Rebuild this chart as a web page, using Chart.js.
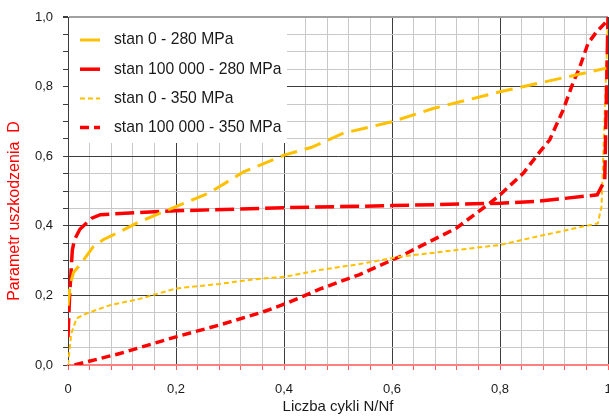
<!DOCTYPE html>
<html lang="pl">
<head>
<meta charset="UTF-8">
<title>Parametr uszkodzenia D</title>
<script src="https://cdn.jsdelivr.net/npm/chart.js"></script>
<style>
    html, body { margin: 0; padding: 0; background: #fff; }
    #wrap { width: 609px; height: 419px; }
</style>
</head>
<body>
<div id="wrap"><canvas id="wykres" width="609" height="419"></canvas></div>
<script>
    // N/Nf i D
    var nS0_280 = [0, 0.004, 0.01, 0.028, 0.047, 0.065, 0.096, 0.13, 0.2, 0.262, 0.325, 0.4, 0.45, 0.51, 0.6, 0.676, 0.8, 0.997];
    var dS0_280 = [0.17, 0.23, 0.265, 0.30, 0.34, 0.36, 0.383, 0.41, 0.455, 0.495, 0.555, 0.603, 0.625, 0.666, 0.699, 0.737, 0.785, 0.853];

    var nS100_280 = [0, 0.003, 0.008, 0.012, 0.022, 0.044, 0.06, 0.127, 0.2, 0.4, 0.6, 0.8, 0.874, 0.98, 0.994, 1.0];
    var dS100_280 = [0.08, 0.2, 0.33, 0.36, 0.39, 0.422, 0.432, 0.438, 0.443, 0.452, 0.458, 0.465, 0.471, 0.489, 0.53, 1.0];

    var nS0_350 = [0, 0.006, 0.016, 0.034, 0.078, 0.133, 0.2, 0.281, 0.343, 0.404, 0.466, 0.54, 0.614, 0.8, 0.874, 0.981, 0.988, 1.0];
    var dS0_350 = [0, 0.09, 0.134, 0.148, 0.172, 0.19, 0.22, 0.233, 0.246, 0.254, 0.273, 0.29, 0.311, 0.345, 0.371, 0.407, 0.455, 1.0];

    var nS100_350 = [0.012, 0.096, 0.2, 0.281, 0.362, 0.404, 0.466, 0.54, 0.614, 0.719, 0.781, 0.8, 0.843, 0.874, 0.892, 0.917, 0.935, 0.947, 0.963, 0.979, 1.0];
    var dS100_350 = [0, 0.033, 0.081, 0.115, 0.153, 0.177, 0.218, 0.26, 0.311, 0.393, 0.465, 0.489, 0.551, 0.613, 0.647, 0.733, 0.81, 0.853, 0.924, 0.958, 0.991];

    var etykietyX = ['0', '0,2', '0,4', '0,6', '0,8', '1'];
    var etykietyY = ['0,0', '0,2', '0,4', '0,6', '0,8', '1,0'];
    var tytulX = 'Liczba cykli N/Nf';
    var tytulY = 'Parametr uszkodzenia  D';

    var czcionka = 'Arial, "Liberation Sans", sans-serif';

    function punkty(xs, ys) {
        return xs.map(function (x, i) { return { x: x, y: ys[i] }; });
    }

    function glowna(v) {
        return Math.abs(v / 0.2 - Math.round(v / 0.2)) < 1e-6;
    }

    function etykieta(lista) {
        return function (v) {
            return glowna(v) ? lista[Math.round(v / 0.2)] : '';
        };
    }

    // legenda w lewym gornym rogu pola wykresu
    var legendaWykresu = {
        id: 'legendaWykresu',
        beforeDatasetsDraw: function (chart) {
            var c = chart.ctx, a = chart.chartArea;
            c.save();
            c.fillStyle = '#ffffff';
            c.fillRect(a.left + 1, a.top + 1, 218, 125);
            chart.data.datasets.forEach(function (ds, i) {
                var y = 40 + i * 29.2;
                c.strokeStyle = ds.borderColor;
                c.lineWidth = ds.borderWidth;
                c.setLineDash(ds.borderDash[0] > 12 ? [] : ds.borderDash);
                c.beginPath();
                c.moveTo(80, y);
                c.lineTo(100, y);
                c.stroke();
                c.setLineDash([]);
                c.fillStyle = '#1a1a1a';
                c.font = '15.7px ' + czcionka;
                c.textBaseline = 'middle';
                c.fillText(ds.label, 114, y);
            });
            c.restore();
        }
    };

    var tytulOsiY = {
        id: 'tytulOsiY',
        afterDraw: function (chart) {
            var c = chart.ctx;
            c.save();
            c.translate(15, 211);
            c.rotate(-Math.PI / 2);
            c.font = '16px ' + czcionka;
            c.fillStyle = '#ff0000';
            c.textAlign = 'center';
            c.textBaseline = 'middle';
            c.fillText(tytulY, 0, 0);
            c.restore();
        }
    };

    var kontekst = document.getElementById('wykres').getContext('2d');
    var wykres = new Chart(kontekst, {
        type: 'line',
        data: {
            datasets: [
                {
                    label: 'stan 0 - 280 MPa',
                    data: punkty(nS0_280, dS0_280),
                    borderColor: '#ffc000',
                    borderWidth: 3,
                    borderDash: [17, 8]
                },
                {
                    label: 'stan 100 000 - 280 MPa',
                    data: punkty(nS100_280, dS100_280),
                    borderColor: '#ff0000',
                    borderWidth: 3.5,
                    borderDash: [19, 6]
                },
                {
                    label: 'stan 0 - 350 MPa',
                    data: punkty(nS0_350, dS0_350),
                    borderColor: '#ffc000',
                    borderWidth: 2,
                    borderDash: [5, 3]
                },
                {
                    label: 'stan 100 000 - 350 MPa',
                    data: punkty(nS100_350, dS100_350),
                    borderColor: '#ff0000',
                    borderWidth: 3.5,
                    borderDash: [9, 5]
                }
            ]
        },
        options: {
            responsive: false,
            animation: false,
            elements: {
                point: { radius: 0 },
                line: { tension: 0, fill: false }
            },
            layout: { padding: { left: 0, top: 17, right: 1, bottom: 0 } },
            plugins: {
                legend: { display: false },
                tooltip: { enabled: false }
            },
            scales: {
                x: {
                    type: 'linear',
                    min: 0,
                    max: 1,
                    ticks: {
                        stepSize: 0.04,
                        maxTicksLimit: 100,
                        autoSkip: false,
                        maxRotation: 0,
                        padding: 12,
                        color: '#1a1a1a',
                        font: { family: czcionka, size: 13 },
                        callback: etykieta(etykietyX)
                    },
                    grid: {
                        color: function (ctx) { return glowna(ctx.tick.value) ? '#3c3c3c' : '#c8c8c8'; },
                        tickColor: '#ff5a5a',
                        tickLength: 5
                    },
                    border: { color: '#ff8080', width: 2 },
                    title: {
                        display: true,
                        text: tytulX,
                        color: '#1a1a1a',
                        font: { family: czcionka, size: 15 },
                        padding: { top: 0, bottom: 3 }
                    },
                    afterFit: function (s) {
                        s.height = 54;
                        s.paddingLeft = 0;
                        s.paddingRight = 0;
                    }
                },
                y: {
                    min: 0,
                    max: 1,
                    ticks: {
                        stepSize: 0.05,
                        maxTicksLimit: 100,
                        autoSkip: false,
                        padding: 10,
                        color: '#1a1a1a',
                        font: { family: czcionka, size: 13 },
                        callback: etykieta(etykietyY)
                    },
                    grid: {
                        color: function (ctx) {
                            var v = ctx.tick.value;
                            if (v > 0.999) return '#a0a0a0';
                            return glowna(v) ? '#3c3c3c' : '#c8c8c8';
                        },
                        lineWidth: function (ctx) { return ctx.tick.value > 0.999 ? 2 : 1; },
                        tickColor: '#3c3c3c',
                        tickLength: 5
                    },
                    border: { color: '#3c3c3c', width: 1 },
                    afterFit: function (s) {
                        s.width = 68;
                        s.paddingTop = 0;
                        s.paddingBottom = 0;
                    }
                }
            }
        },
        plugins: [legendaWykresu, tytulOsiY]
    });
</script>
</body>
</html>
